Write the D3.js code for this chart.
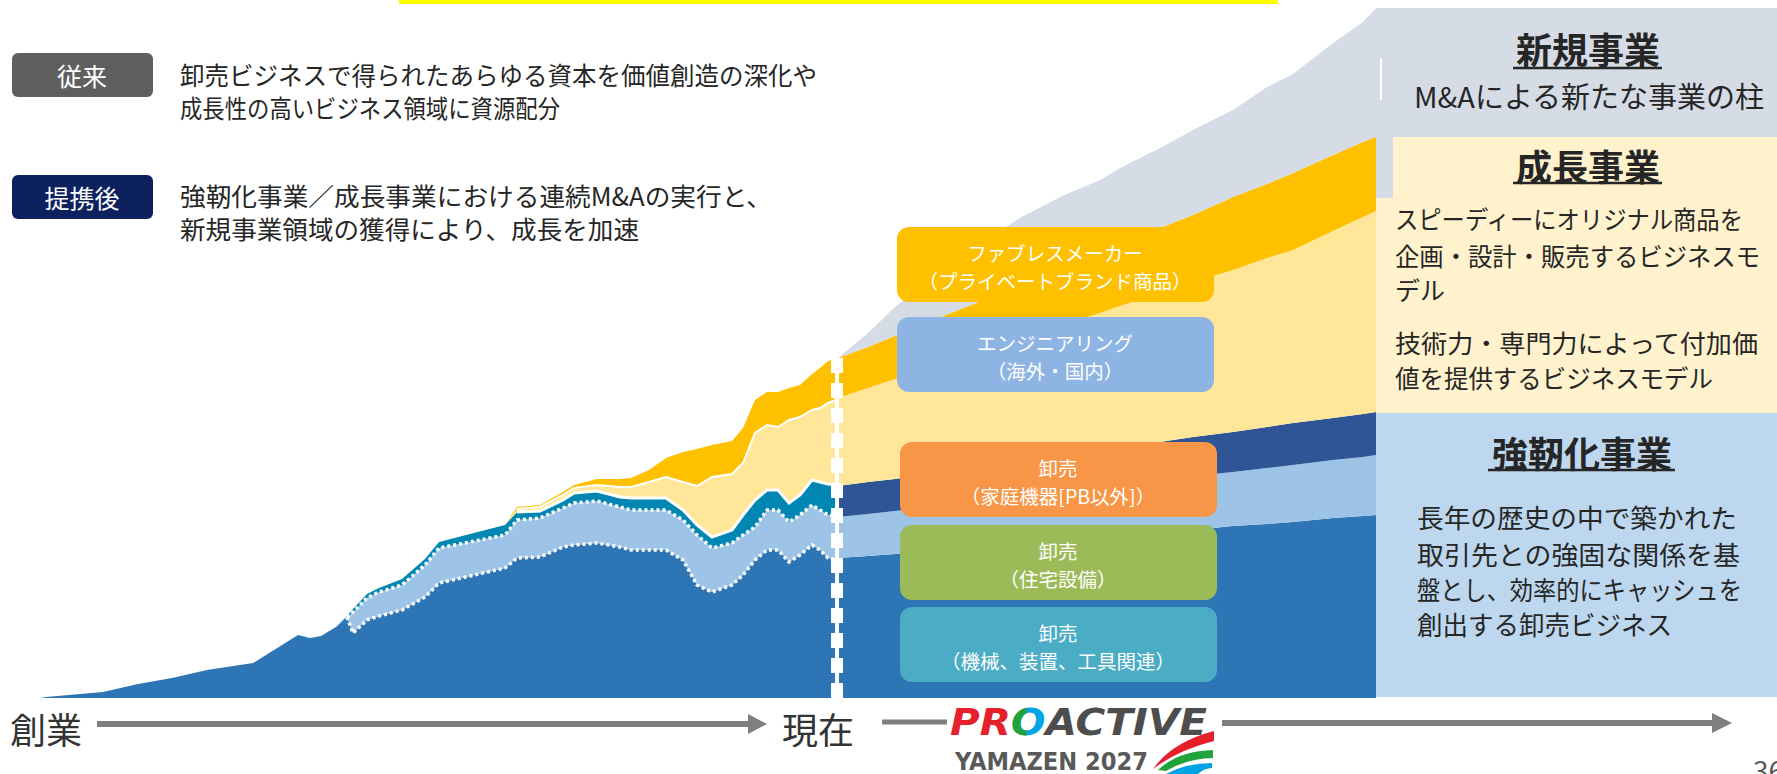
<!DOCTYPE html>
<html lang="ja">
<head>
<meta charset="utf-8">
<script src="https://cdn.jsdelivr.net/npm/d3@7"></script>
<style>
  html, body { margin: 0; padding: 0; background: #fff; }
  svg text { font-family: "Noto Sans CJK JP", "Noto Sans", sans-serif; }
</style>
</head>
<body>
<svg id="chart" width="1777" height="774"></svg>
<script>
// 過去（創業〜現在）：各事業の厚み
const histT = [40,46,103,138,172,207,253,298,310,321,336,347,353,367,379,402,425,439,470,505,517,540,563,574,597,620,631,649,666,683,697,712,732,743,755,767,778,789,800,812,820,828,838];
const histMachine = [0,1,6,14,20,28,35,63,60,62,71,81,65,78,82,88,101,115,122,130,140,141,151,153,155,151,148,148,148,138,113,106,113,123,138,148,148,136,143,153,148,140,138];
const histHousing = [0,0,0,0,0,0,0,0,0,0,0,0,21,22,24,25,32,35,34,33,38,39,39,42,42,40,40,40,40,40,50,44,42,40,33,40,40,40,40,40,40,43,44];
const histHome    = [0,0,0,0,0,0,0,0,0,0,0,1,3,4,4,6,6,6,8,10,8,7,8,10,10,10,12,12,12,10,10,11,13,20,27,20,20,19,20,25,28,31,31];
const histEng     = [0,0,0,0,0,0,0,0,0,0,0,0,0,0,0,0,0,0,0,0,3,4,5,5,6,10,11,16,21,28,39,60,56,52,67,65,63,83,78,70,74,81,86];
const histFabless = [0,0,0,0,0,0,0,0,0,0,0,0,0,0,0,0,0,0,0,0,2,2,3,3,6,8,9,12,19,30,37,32,33,35,33,33,35,32,32,36,40,42,41];

// 将来（現在〜）
const futT       = [838,868,895,941,986,1020,1060,1100,1120,1160,1193,1233,1267,1293,1333,1363,1376];
const futMachine = [140,142,144,148,152,154,158,161,162,166,168,172,174,176,180,182,183];
const futHousing = [41,42,43,45,46,48,48,50,51,52,54,54,56,57,58,59,60];
const futHome    = [31,32,32,33,34,35,36,37,38,38,39,40,41,42,42,43,43];
const futEng     = [88,94,100,108,116,122,130,137,141,149,155,162,169,173,187,197,201];
const futFabless = [40,41,43,47,51,54,57,60,62,65,67,73,74,77,76,75,74];
const futNew     = [0,14,29,45,59,67,72,73,76,80,85,87,97,99,112,120,129];

const keys = ["machine", "housing", "home", "eng", "fabless", "newbiz"];
const histColor = { machine: "#2E75B6", housing: "#9DC3E6", home: "#0086B3", eng: "#FFE699", fabless: "#FFC000" };
const futColor  = { machine: "#2E75B6", housing: "#9DC3E6", home: "#2F5597", eng: "#FFE699", fabless: "#FFC000", newbiz: "#D6DCE5" };

const boxLabels = [
  ["ファブレスメーカー", "（プライベートブランド商品）"],
  ["エンジニアリング", "（海外・国内）"],
  ["卸売", "（家庭機器[PB以外]）"],
  ["卸売", "（住宅設備）"],
  ["卸売", "（機械、装置、工具関連）"]
];
const boxColors = ["#FFC000", "#8EB4E3", "#F79646", "#9BBB59", "#4BACC6"];

const svg = d3.select("#chart");
const x = d3.scaleLinear().domain([0, 1376]).range([0, 1376]);
const y = d3.scaleLinear().domain([0, 690]).range([698, 8]);

// 上部の黄色い帯
svg.append("rect").attr("x", 399).attr("y", 0).attr("width", 879).attr("height", 4).attr("fill", "#FFFF00");

// 過去
const histRows = histT.map((t, i) => ({ t, machine: histMachine[i], housing: histHousing[i], home: histHome[i], eng: histEng[i], fabless: histFabless[i] }));
const histStack = d3.stack().keys(keys.slice(0, 5))(histRows);
const area = d3.area().x(d => x(d.data.t)).y0(d => y(d[0])).y1(d => y(d[1]));

svg.append("g").selectAll("path").data(histStack).join("path")
  .attr("d", area).attr("fill", d => histColor[d.key]);

// 将来
const futRows = futT.map((t, i) => ({ t, machine: futMachine[i], housing: futHousing[i], home: futHome[i], eng: futEng[i], fabless: futFabless[i], newbiz: futNew[i] }));
const futStack = d3.stack().keys(keys)(futRows);
svg.append("g").selectAll("path").data(futStack).join("path")
  .attr("d", area).attr("fill", d => futColor[d.key]);

// 白い線
const topLine = d3.line().x(d => x(d.data.t)).y(d => y(d[1]));
const from = (s, t0) => s.filter(d => d.data.t >= t0);
svg.append("path").attr("d", topLine(from(histStack[2], 517))).attr("fill", "none").attr("stroke", "#fff").attr("stroke-width", 3);
svg.append("path").attr("d", topLine(from(histStack[3], 517))).attr("fill", "none").attr("stroke", "#fff").attr("stroke-width", 2);
[0, 1].forEach(k => {
  svg.append("path").attr("d", topLine(from(histStack[k], 347))).attr("fill", "none")
    .attr("stroke", "#fff").attr("stroke-width", 3.5).attr("stroke-dasharray", "3,3");
});

// 現在の破線
const nowX = x(837);
svg.append("line").attr("x1", nowX).attr("x2", nowX).attr("y1", y(340)).attr("y2", y(0))
  .attr("stroke", "#fff").attr("stroke-width", 4);
svg.append("line").attr("x1", nowX).attr("x2", nowX).attr("y1", y(340)).attr("y2", y(0))
  .attr("stroke", "#fff").attr("stroke-width", 12).attr("stroke-dasharray", "15,10");

// ラベルボックス
const boxY = [227, 317, 442, 525, 607];
boxLabels.forEach((lab, i) => {
  const bx = i < 2 ? 897 : 900;
  const g = svg.append("g");
  g.append("rect").attr("x", bx).attr("y", boxY[i]).attr("width", 317).attr("height", 75).attr("rx", 12)
    .attr("fill", boxColors[i]);
  lab.forEach((s, j) => {
    g.append("text").attr("x", bx + 158).attr("y", boxY[i] + 25 + j * 28)
      .attr("text-anchor", "middle").attr("dominant-baseline", "central")
      .attr("font-size", 19.5).attr("fill", "#fff").text(s);
  });
});

// 右側パネル
svg.append("rect").attr("x", 1376).attr("y", 8).attr("width", 401).attr("height", 129).attr("fill", "#D6DCE5");
svg.append("rect").attr("x", 1376).attr("y", 137).attr("width", 17).attr("height", 61).attr("fill", "#D6DCE5");
svg.append("rect").attr("x", 1393).attr("y", 137).attr("width", 384).attr("height", 61).attr("fill", "#FFF2CC");
svg.append("rect").attr("x", 1376).attr("y", 198).attr("width", 401).attr("height", 215).attr("fill", "#FFF2CC");
svg.append("rect").attr("x", 1376).attr("y", 413).attr("width", 401).attr("height", 284).attr("fill", "#BDD7EE");
svg.append("line").attr("x1", 1381).attr("x2", 1381).attr("y1", 58).attr("y2", 100).attr("stroke", "#fff").attr("stroke-width", 2);

const ink = "#262626";
function title(txt, cx, cy, x1, x2, uy) {
  svg.append("text").attr("x", cx).attr("y", cy).attr("text-anchor", "middle").attr("dominant-baseline", "central")
    .attr("font-size", 36).attr("font-weight", 700).attr("fill", ink).text(txt);
  svg.append("line").attr("x1", x1).attr("x2", x2).attr("y1", uy).attr("y2", uy).attr("stroke", ink).attr("stroke-width", 2.5);
}
function lines(arr, lx, ys, fs, widths) {
  arr.forEach((s, i) => {
    const t = svg.append("text").attr("x", lx).attr("y", ys[i]).attr("dominant-baseline", "central")
      .attr("font-size", fs).attr("fill", ink).text(s);
    if (widths && widths[i]) t.attr("textLength", widths[i]).attr("lengthAdjust", "spacingAndGlyphs");
  });
}
title("新規事業", 1588, 48, 1513, 1662, 68);
svg.append("text").attr("x", 1589).attr("y", 95).attr("text-anchor", "middle").attr("dominant-baseline", "central")
  .attr("font-size", 29).attr("fill", ink).text("M&Aによる新たな事業の柱");
title("成長事業", 1588, 165, 1513, 1662, 183);
lines(["スピーディーにオリジナル商品を", "企画・設計・販売するビジネスモ", "デル", "技術力・専門力によって付加価", "値を提供するビジネスモデル"],
  1395, [218, 255, 289, 342, 377], 25, [348, 365, 0, 363, 318]);
title("強靭化事業", 1582, 452, 1488, 1675, 470);
lines(["長年の歴史の中で築かれた", "取引先との強固な関係を基", "盤とし、効率的にキャッシュを", "創出する卸売ビジネス"],
  1417, [516, 553, 588, 623], 26, [320, 323, 325, 255]);

// 左上の説明
[["従来", "#5F5F5F", 53, ["卸売ビジネスで得られたあらゆる資本を価値創造の深化や", "成長性の高いビジネス領域に資源配分"], [73.5, 106.5], [637, 380]],
 ["提携後", "#0C215E", 175, ["強靭化事業／成長事業における連続M&Aの実行と、", "新規事業領域の獲得により、成長を加速"], [195, 228], [592, 459]]]
.forEach(([badge, col, by, txt, ys, ws]) => {
  svg.append("rect").attr("x", 12).attr("y", by).attr("width", 141).attr("height", 44).attr("rx", 6).attr("fill", col);
  svg.append("text").attr("x", 82).attr("y", by + 22).attr("text-anchor", "middle").attr("dominant-baseline", "central")
    .attr("font-size", 25).attr("fill", "#fff").text(badge);
  lines(txt, 180, ys, 25, ws);
});

// 時間軸
const axisCol = "#7F7F7F";
svg.append("text").attr("x", 10).attr("y", 728).attr("dominant-baseline", "central").attr("font-size", 36).attr("fill", "#333").text("創業");
svg.append("line").attr("x1", 97).attr("x2", 750).attr("y1", 724).attr("y2", 724).attr("stroke", axisCol).attr("stroke-width", 6);
svg.append("path").attr("d", "M748,714L767,724L748,734Z").attr("fill", axisCol);
svg.append("text").attr("x", 782).attr("y", 728).attr("dominant-baseline", "central").attr("font-size", 36).attr("fill", "#333").text("現在");
svg.append("line").attr("x1", 882).attr("x2", 947).attr("y1", 722).attr("y2", 722).attr("stroke", axisCol).attr("stroke-width", 5);
svg.append("line").attr("x1", 1222).attr("x2", 1714).attr("y1", 723).attr("y2", 723).attr("stroke", axisCol).attr("stroke-width", 6);
svg.append("path").attr("d", "M1712,713L1732,723L1712,733Z").attr("fill", axisCol);

// ロゴ
function logoText(fillFn) {
  const t = svg.append("text").attr("x", 950).attr("y", 735)
    .attr("font-size", 37).attr("font-weight", 700).attr("font-style", "italic")
    .style("font-family", "'DejaVu Sans', sans-serif").style("font-stretch", "condensed")
    .attr("textLength", 257).attr("lengthAdjust", "spacingAndGlyphs");
  [["PR", "#E5202A"], ["O", "#00A3E4"], ["ACTIVE", "#4D4D4D"]].forEach(([s, c], i) => t.append("tspan").attr("fill", fillFn(c, i)).text(s));
  return t;
}
const logo = logoText(c => c);
const ext = logo.node().getExtentOfChar(2);
svg.append("clipPath").attr("id", "greenO").append("rect")
  .attr("x", ext.x).attr("y", ext.y).attr("width", ext.width * 0.45).attr("height", ext.height);
logoText(() => "#1FA33A").attr("clip-path", "url(#greenO)");
svg.append("text").attr("x", 955).attr("y", 770).attr("font-size", 24).attr("font-weight", 700)
  .style("font-family", "'DejaVu Sans', sans-serif").style("font-stretch", "condensed")
  .attr("textLength", 193).attr("lengthAdjust", "spacingAndGlyphs").attr("fill", "#595959").text("YAMAZEN 2027");
svg.append("path").attr("d", "M1214,731Q1172,742 1153,769Q1178,750 1214,741Z").attr("fill", "#E5202A");
svg.append("path").attr("d", "M1213,750Q1178,751 1158,770L1166,771Q1186,759 1213,758Z").attr("fill", "#1FA33A");
svg.append("path").attr("d", "M1212,763Q1186,763 1166,774L1198,774Q1204,768 1212,768Z").attr("fill", "#00A3E4");

// ページ番号
svg.append("text").attr("x", 1753).attr("y", 782).attr("font-size", 28).attr("fill", "#595959").text("36");
</script>
</body>
</html>
